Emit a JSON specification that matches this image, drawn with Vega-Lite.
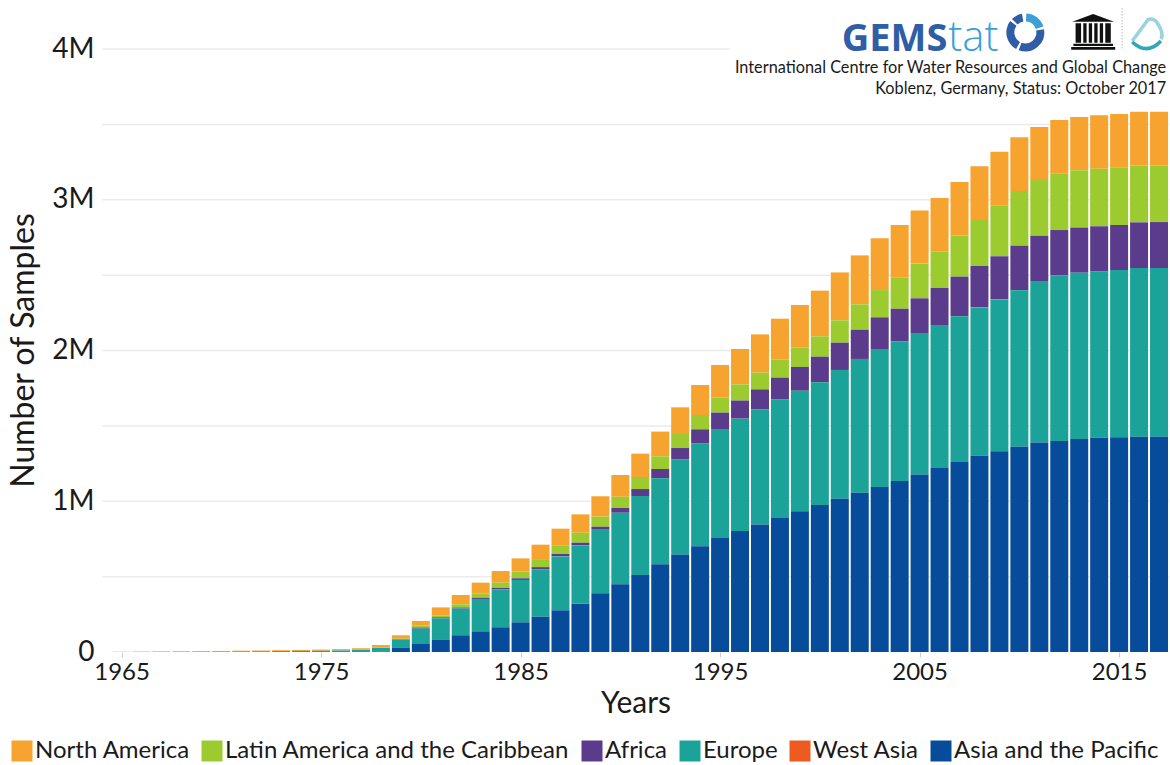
{
"$schema":"https://vega.github.io/schema/vega-lite/v6.json",
"width":1067,"height":603,
"autosize":{"type":"none"},
"padding":{"left":102,"top":49,"right":1,"bottom":113},
"background":"white",
"config":{"view":{"stroke":null},"font":"Lato"},
"layer":[
{"data":{"values":[
{"level":500000,"from":1964.02,"to":2017.5},
{"level":1000000,"from":1964.02,"to":2017.5},
{"level":1500000,"from":1964.02,"to":2017.5},
{"level":2000000,"from":1964.02,"to":2017.5},
{"level":2500000,"from":1964.02,"to":2017.5},
{"level":3000000,"from":1964.02,"to":2017.5},
{"level":3500000,"from":1964.02,"to":2017.5},
{"level":4000000,"from":1964.02,"to":1995.5}
]},
"mark":{"type":"rule","color":"#ebebeb","strokeWidth":1.5},
"encoding":{
"x":{"field":"from","type":"quantitative","scale":{"domain":[1964.02,2017.5],"nice":false,"zero":false,"padding":0},
"axis":{"values":[1965,1975,1985,1995,2005,2015],"format":"d","title":"Years","grid":false,"domain":false,"tickColor":"#cccccc","tickSize":5,"labelFontSize":24,"labelColor":"#1a1a1a","labelPadding":3,"titleFontSize":30,"titleFontWeight":"normal","titleColor":"#1a1a1a","titlePadding":4,"labelFlush":false}},
"x2":{"field":"to"},
"y":{"field":"level","type":"quantitative","scale":{"domain":[0,4000000],"nice":false},
"axis":{"values":[0,1000000,2000000,3000000,4000000],"labelExpr":"datum.value==0?'0':(datum.value/1000000)+'M'","title":"Number of Samples","grid":false,"domain":false,"ticks":false,"labelFontSize":28,"labelColor":"#1a1a1a","labelPadding":8,"titleFontSize":32,"titleFontWeight":"normal","titleColor":"#1a1a1a","titleX":-62,"titleY":301}}
}},
{"data":{"values":[
{"year":1965,"Asia and the Pacific":0,"West Asia":0,"Europe":0,"Africa":0,"Latin America and the Caribbean":0,"North America":2000},
{"year":1966,"Asia and the Pacific":0,"West Asia":0,"Europe":0,"Africa":0,"Latin America and the Caribbean":0,"North America":3000},
{"year":1967,"Asia and the Pacific":0,"West Asia":0,"Europe":1000,"Africa":0,"Latin America and the Caribbean":0,"North America":3000},
{"year":1968,"Asia and the Pacific":0,"West Asia":0,"Europe":1000,"Africa":0,"Latin America and the Caribbean":0,"North America":4000},
{"year":1969,"Asia and the Pacific":0,"West Asia":0,"Europe":2000,"Africa":0,"Latin America and the Caribbean":0,"North America":4000},
{"year":1970,"Asia and the Pacific":0,"West Asia":0,"Europe":3000,"Africa":0,"Latin America and the Caribbean":0,"North America":4000},
{"year":1971,"Asia and the Pacific":0,"West Asia":0,"Europe":4000,"Africa":0,"Latin America and the Caribbean":0,"North America":5000},
{"year":1972,"Asia and the Pacific":0,"West Asia":0,"Europe":5000,"Africa":0,"Latin America and the Caribbean":0,"North America":5000},
{"year":1973,"Asia and the Pacific":0,"West Asia":0,"Europe":6000,"Africa":0,"Latin America and the Caribbean":0,"North America":6000},
{"year":1974,"Asia and the Pacific":0,"West Asia":0,"Europe":7000,"Africa":0,"Latin America and the Caribbean":0,"North America":7000},
{"year":1975,"Asia and the Pacific":0,"West Asia":0,"Europe":8000,"Africa":0,"Latin America and the Caribbean":0,"North America":8000},
{"year":1976,"Asia and the Pacific":0,"West Asia":0,"Europe":10000,"Africa":0,"Latin America and the Caribbean":1000,"North America":8000},
{"year":1977,"Asia and the Pacific":0,"West Asia":0,"Europe":15000,"Africa":0,"Latin America and the Caribbean":2000,"North America":8000},
{"year":1978,"Asia and the Pacific":1000,"West Asia":0,"Europe":26000,"Africa":0,"Latin America and the Caribbean":2000,"North America":17000},
{"year":1979,"Asia and the Pacific":27000,"West Asia":0,"Europe":53000,"Africa":3000,"Latin America and the Caribbean":5000,"North America":23000},
{"year":1980,"Asia and the Pacific":53000,"West Asia":0,"Europe":102000,"Africa":7000,"Latin America and the Caribbean":13000,"North America":31000},
{"year":1981,"Asia and the Pacific":80000,"West Asia":0,"Europe":143000,"Africa":7000,"Latin America and the Caribbean":11000,"North America":55000},
{"year":1982,"Asia and the Pacific":111000,"West Asia":0,"Europe":177000,"Africa":7000,"Latin America and the Caribbean":21000,"North America":62000},
{"year":1983,"Asia and the Pacific":137000,"West Asia":0,"Europe":215000,"Africa":8000,"Latin America and the Caribbean":29000,"North America":71000},
{"year":1984,"Asia and the Pacific":164000,"West Asia":0,"Europe":252000,"Africa":9000,"Latin America and the Caribbean":35000,"North America":77000},
{"year":1985,"Asia and the Pacific":197000,"West Asia":0,"Europe":281000,"Africa":11000,"Latin America and the Caribbean":44000,"North America":88000},
{"year":1986,"Asia and the Pacific":234000,"West Asia":0,"Europe":315000,"Africa":14000,"Latin America and the Caribbean":53000,"North America":96000},
{"year":1987,"Asia and the Pacific":276000,"West Asia":0,"Europe":358000,"Africa":16000,"Latin America and the Caribbean":58000,"North America":110000},
{"year":1988,"Asia and the Pacific":321000,"West Asia":0,"Europe":386000,"Africa":18000,"Latin America and the Caribbean":66000,"North America":122000},
{"year":1989,"Asia and the Pacific":389000,"West Asia":0,"Europe":427000,"Africa":15000,"Latin America and the Caribbean":67000,"North America":135000},
{"year":1990,"Asia and the Pacific":449000,"West Asia":0,"Europe":475000,"Africa":31000,"Latin America and the Caribbean":75000,"North America":144000},
{"year":1991,"Asia and the Pacific":511000,"West Asia":0,"Europe":524000,"Africa":46000,"Latin America and the Caribbean":80000,"North America":155000},
{"year":1992,"Asia and the Pacific":582000,"West Asia":0,"Europe":570000,"Africa":62000,"Latin America and the Caribbean":84000,"North America":164000},
{"year":1993,"Asia and the Pacific":647000,"West Asia":0,"Europe":631000,"Africa":75000,"Latin America and the Caribbean":93000,"North America":177000},
{"year":1994,"Asia and the Pacific":702000,"West Asia":0,"Europe":682000,"Africa":93000,"Latin America and the Caribbean":95000,"North America":199000},
{"year":1995,"Asia and the Pacific":757000,"West Asia":0,"Europe":722000,"Africa":109000,"Latin America and the Caribbean":99000,"North America":217000},
{"year":1996,"Asia and the Pacific":802000,"West Asia":0,"Europe":746000,"Africa":120000,"Latin America and the Caribbean":107000,"North America":235000},
{"year":1997,"Asia and the Pacific":846000,"West Asia":0,"Europe":764000,"Africa":132000,"Latin America and the Caribbean":111000,"North America":254000},
{"year":1998,"Asia and the Pacific":889000,"West Asia":0,"Europe":787000,"Africa":144000,"Latin America and the Caribbean":121000,"North America":270000},
{"year":1999,"Asia and the Pacific":933000,"West Asia":0,"Europe":800000,"Africa":158000,"Latin America and the Caribbean":128000,"North America":283000},
{"year":2000,"Asia and the Pacific":975000,"West Asia":0,"Europe":814000,"Africa":170000,"Latin America and the Caribbean":135000,"North America":303000},
{"year":2001,"Asia and the Pacific":1017000,"West Asia":0,"Europe":854000,"Africa":181000,"Latin America and the Caribbean":148000,"North America":318000},
{"year":2002,"Asia and the Pacific":1057000,"West Asia":0,"Europe":887000,"Africa":194000,"Latin America and the Caribbean":168000,"North America":325000},
{"year":2003,"Asia and the Pacific":1095000,"West Asia":0,"Europe":915000,"Africa":210000,"Latin America and the Caribbean":181000,"North America":343000},
{"year":2004,"Asia and the Pacific":1134000,"West Asia":0,"Europe":927000,"Africa":216000,"Latin America and the Caribbean":208000,"North America":347000},
{"year":2005,"Asia and the Pacific":1178000,"West Asia":0,"Europe":938000,"Africa":230000,"Latin America and the Caribbean":232000,"North America":350000},
{"year":2006,"Asia and the Pacific":1221000,"West Asia":0,"Europe":948000,"Africa":246000,"Latin America and the Caribbean":243000,"North America":354000},
{"year":2007,"Asia and the Pacific":1260000,"West Asia":0,"Europe":967000,"Africa":263000,"Latin America and the Caribbean":274000,"North America":354000},
{"year":2008,"Asia and the Pacific":1302000,"West Asia":0,"Europe":984000,"Africa":275000,"Latin America and the Caribbean":305000,"North America":356000},
{"year":2009,"Asia and the Pacific":1331000,"West Asia":0,"Europe":1008000,"Africa":286000,"Latin America and the Caribbean":338000,"North America":356000},
{"year":2010,"Asia and the Pacific":1362000,"West Asia":0,"Europe":1037000,"Africa":296000,"Latin America and the Caribbean":363000,"North America":356000},
{"year":2011,"Asia and the Pacific":1389000,"West Asia":0,"Europe":1072000,"Africa":299000,"Latin America and the Caribbean":371000,"North America":352000},
{"year":2012,"Asia and the Pacific":1400000,"West Asia":0,"Europe":1099000,"Africa":300000,"Latin America and the Caribbean":376000,"North America":354000},
{"year":2013,"Asia and the Pacific":1413000,"West Asia":0,"Europe":1103000,"Africa":299000,"Latin America and the Caribbean":380000,"North America":354000},
{"year":2014,"Asia and the Pacific":1422000,"West Asia":0,"Europe":1103000,"Africa":299000,"Latin America and the Caribbean":382000,"North America":354000},
{"year":2015,"Asia and the Pacific":1424000,"West Asia":0,"Europe":1110000,"Africa":298000,"Latin America and the Caribbean":381000,"North America":356000},
{"year":2016,"Asia and the Pacific":1428000,"West Asia":0,"Europe":1119000,"Africa":303000,"Latin America and the Caribbean":378000,"North America":356000},
{"year":2017,"Asia and the Pacific":1428000,"West Asia":0,"Europe":1119000,"Africa":305000,"Latin America and the Caribbean":376000,"North America":356000}
]},
"transform":[
{"fold":["North America","Latin America and the Caribbean","Africa","Europe","West Asia","Asia and the Pacific"],"as":["region","samples"]},
{"lookup":"region","from":{"data":{"values":[
{"region":"Asia and the Pacific","rank":6},{"region":"West Asia","rank":5},{"region":"Europe","rank":4},{"region":"Africa","rank":3},{"region":"Latin America and the Caribbean","rank":2},{"region":"North America","rank":1}
]},"key":"region","fields":["rank"]}}
],
"mark":{"type":"bar","width":18},
"encoding":{
"x":{"field":"year","type":"quantitative"},
"y":{"field":"samples","type":"quantitative","stack":"zero"},
"order":{"field":"rank","type":"quantitative","sort":"descending"},
"color":{"field":"region","type":"nominal",
"scale":{"domain":["North America","Latin America and the Caribbean","Africa","Europe","West Asia","Asia and the Pacific"],"range":["#F6A32F","#9BCB2F","#5A3B8C","#1BA399","#EE5B20","#064C9A"]},
"legend":{"title":null,"orient":"none","legendX":-92,"legendY":690,"direction":"horizontal","columns":6,"gridAlign":"none","symbolType":"square","symbolSize":441,"symbolStrokeWidth":0,"symbolOpacity":1,"labelFontSize":24,"labelColor":"#1a1a1a","labelOffset":1,"columnPadding":10,"labelLimit":500}}
}},
{"data":{"values":[{"t":"GEMS"}]},"mark":{"type":"text","align":"left","baseline":"alphabetic","fontSize":38,"fontWeight":"bold","color":"#2F5DA6","font":"Open Sans"},
"encoding":{"text":{"field":"t"},"x":{"datum":2001.1,"type":"quantitative"},"y":{"datum":3990000,"type":"quantitative"}}},
{"data":{"values":[{"t":"tat"}]},"mark":{"type":"text","align":"left","baseline":"alphabetic","fontSize":42,"fontWeight":300,"color":"#3C9FD8","font":"Open Sans"},
"encoding":{"text":{"field":"t"},"x":{"datum":2006.43,"type":"quantitative"},"y":{"datum":3990000,"type":"quantitative"}}},
{"data":{"values":[{"t":"International Centre for Water Resources and Global Change"}]},"mark":{"type":"text","align":"right","baseline":"alphabetic","fontSize":16.3,"color":"#1a1a1a"},
"encoding":{"text":{"field":"t"},"x":{"datum":2017.36,"type":"quantitative"},"y":{"datum":3840000,"type":"quantitative"}}},
{"data":{"values":[{"t":"Koblenz, Germany, Status: October 2017"}]},"mark":{"type":"text","align":"right","baseline":"alphabetic","fontSize":16.3,"color":"#1a1a1a"},
"encoding":{"text":{"field":"t"},"x":{"datum":2017.36,"type":"quantitative"},"y":{"datum":3700000,"type":"quantitative"}}},
{"data":{"values":[{"t":"ring"}]},"mark":{"type":"arc","theta":0.05,"theta2":1.25,"radius":19,"radius2":11,"color":"#3C9FD8"},
"encoding":{"x":{"datum":2010.3,"type":"quantitative"},"y":{"datum":4110000,"type":"quantitative"}}},
{"data":{"values":[{"t":"ring"}]},"mark":{"type":"arc","theta":1.4,"theta2":3.5,"radius":19,"radius2":11,"color":"#2F5DA6"},
"encoding":{"x":{"datum":2010.3,"type":"quantitative"},"y":{"datum":4110000,"type":"quantitative"}}},
{"data":{"values":[{"t":"ring"}]},"mark":{"type":"arc","theta":3.65,"theta2":5.35,"radius":19,"radius2":11,"color":"#2F5DA6"},
"encoding":{"x":{"datum":2010.3,"type":"quantitative"},"y":{"datum":4110000,"type":"quantitative"}}},
{"data":{"values":[{"t":"ring"}]},"mark":{"type":"arc","theta":5.5,"theta2":6.1,"radius":19,"radius2":11,"color":"#2F5DA6"},
"encoding":{"x":{"datum":2010.3,"type":"quantitative"},"y":{"datum":4110000,"type":"quantitative"}}},
{"data":{"values":[{"t":"temple"}]},"mark":{"type":"point","filled":true,"opacity":1,"size":1936,"color":"#111111","shape":"M-0.95,-0.45 L0,-0.8 L0.95,-0.45 Z M-0.8,-0.38 H-0.55 V0.5 H-0.8 Z M-0.45,-0.38 H-0.3 V0.5 H-0.45 Z M-0.2,-0.38 H-0.05 V0.5 H-0.2 Z M0.05,-0.38 H0.2 V0.5 H0.05 Z M0.3,-0.38 H0.45 V0.5 H0.3 Z M0.55,-0.38 H0.8 V0.5 H0.55 Z M-0.9,0.55 H0.9 V0.65 H-0.9 Z M-1,0.7 H1 V0.82 H-1 Z"},
"encoding":{"x":{"datum":2013.7,"type":"quantitative"},"y":{"datum":4115000,"type":"quantitative"}}},
{"data":{"values":[{"t":"divider"}]},"mark":{"type":"rule","color":"#999999","strokeDash":[1,2],"strokeWidth":1},
"encoding":{"x":{"datum":2015.15,"type":"quantitative"},"y":{"datum":4270000,"type":"quantitative"},"y2":{"datum":3990000}}},
{"data":{"values":[{"t":"drop"}]},"mark":{"type":"point","filled":false,"opacity":1,"size":1369,"color":"#9BD2DC","strokeWidth":3.5,"shape":"M-0.8,0.3 L0.05,-0.85 Q0.3,-0.95 0.5,-0.75 Q0.95,-0.1 0.75,0.2"},
"encoding":{"x":{"datum":2016.4,"type":"quantitative"},"y":{"datum":4090000,"type":"quantitative"}}},
{"data":{"values":[{"t":"drop"}]},"mark":{"type":"point","filled":false,"opacity":1,"size":1369,"color":"#2FA7B8","strokeWidth":3.5,"shape":"M-0.8,0.35 Q0,1.1 0.75,0.3"},
"encoding":{"x":{"datum":2016.4,"type":"quantitative"},"y":{"datum":4090000,"type":"quantitative"}}}
]
}
